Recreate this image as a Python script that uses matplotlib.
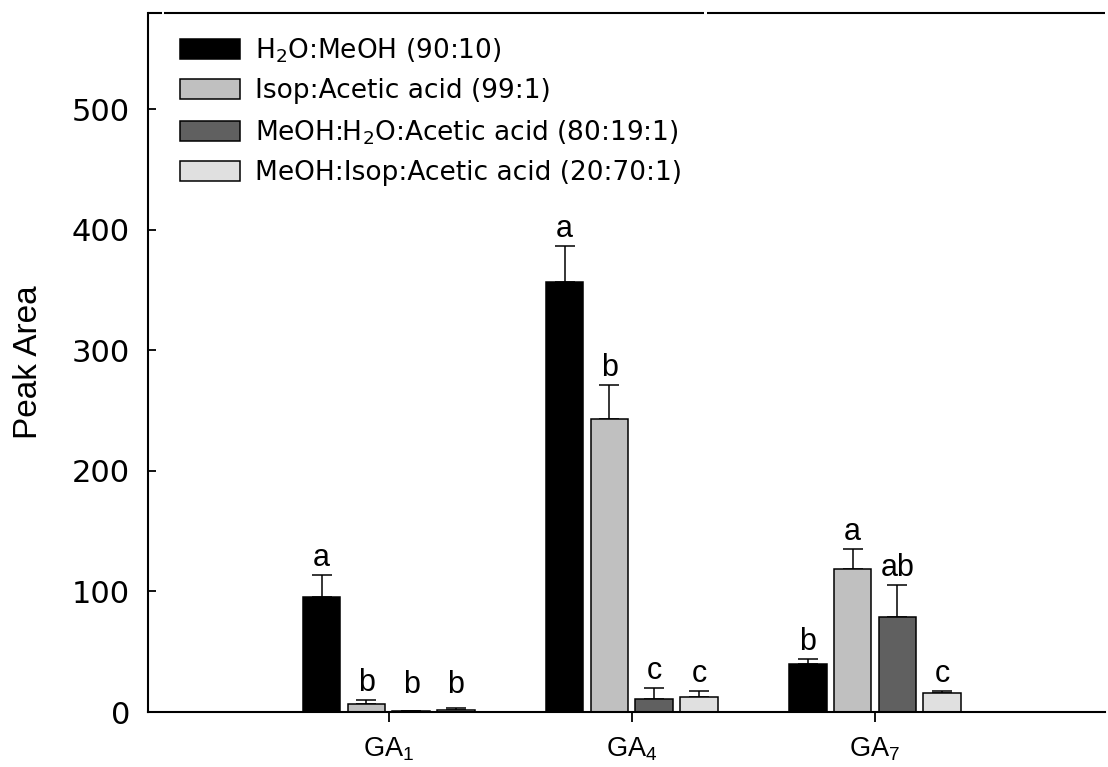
import matplotlib
matplotlib.use("Agg")
import matplotlib.pyplot as plt
import numpy as np

groups = ["GA$\\mathregular{_1}$", "GA$\\mathregular{_4}$", "GA$\\mathregular{_7}$"]
series = ["H$\\mathregular{_2}$O:MeOH (90:10)",
          "Isop:Acetic acid (99:1)",
          "MeOH:H$\\mathregular{_2}$O:Acetic acid (80:19:1)",
          "MeOH:Isop:Acetic acid (20:70:1)"]
colors = ["#000000", "#c0c0c0", "#606060", "#e0e0e0"]

# values per series across GA1, GA4, GA7
h2o_meoh = [95.5, 357, 40]
isop_acetic = [7, 243.5, 119]
meoh_h2o_acetic = [0.5, 10.5, 79]
meoh_isop_acetic = [2, 12.7, 15.5]
values = [h2o_meoh, isop_acetic, meoh_h2o_acetic, meoh_isop_acetic]

h2o_meoh_err = [18, 29.5, 4]
isop_acetic_err = [3, 28, 16]
meoh_h2o_acetic_err = [0, 9.7, 26.5]
meoh_isop_acetic_err = [1.7, 4.7, 2]
errors = [h2o_meoh_err, isop_acetic_err, meoh_h2o_acetic_err, meoh_isop_acetic_err]

letters = [["a", "a", "b"],
           ["b", "b", "a"],
           ["b", "c", "ab"],
           ["b", "c", "c"]]

fig = plt.figure(figsize=(11.08, 7.67), dpi=100)
ax = fig.add_axes([148/1108, 1-712/767, (1105-148)/1108, (712-13)/767])

x = np.arange(1, len(groups)+1)
spacing = 0.184
width = 0.154
offsets = (np.arange(4) - 1.5) * spacing

for i in range(4):
    xs = x + offsets[i]
    ax.bar(xs, values[i], width=width, color=colors[i], edgecolor="black",
           linewidth=1.1, label=series[i], zorder=2)
    ax.errorbar(xs, values[i], yerr=[np.zeros(3), errors[i]], fmt="none",
                ecolor="black", elinewidth=1.1, capsize=7, capthick=1.1, zorder=1)
    for j in range(3):
        top = max(values[i][j] + errors[i][j], 8)
        ax.annotate(letters[i][j], (xs[j], top), xytext=(0, 6.5),
                    textcoords="offset points", ha="center", va="baseline",
                    fontsize=22, family="Liberation Sans")

ax.set_xlim(0.01, 3.946)
ax.set_ylim(0, 580)
ax.set_yticks([0, 100, 200, 300, 400, 500])
ax.set_xticks(x)
ax.set_xticklabels(groups, fontsize=19.5, family="Liberation Sans")
ax.tick_params(axis="y", direction="in", length=6, width=1.3, pad=13, labelsize=22)
ax.tick_params(axis="x", direction="out", length=7, width=1.3, pad=10)
ax.spines["right"].set_visible(False)
ax.spines["top"].set_visible(False)
for s in ["left", "bottom"]:
    ax.spines[s].set_linewidth(1.5)
# top border drawn in pieces with the small gaps seen in the original
for a, b in [(0.0, 0.0146), (0.0167, 0.5813), (0.5838, 1.0)]:
    ax.plot([a, b], [1, 1], transform=ax.transAxes, color="black", lw=1.5,
            clip_on=False, solid_capstyle="butt", zorder=5)
ax.set_ylabel("Peak Area", fontsize=24, family="Liberation Sans", labelpad=20)

leg = ax.legend(loc="upper left", bbox_to_anchor=(0.0334, 0.967), frameon=False,
                fontsize=19, handlelength=2.27, handleheight=0.8,
                labelspacing=0.52, handletextpad=0.57, borderpad=0,
                borderaxespad=0)

fig.savefig("out.png", dpi=100)
